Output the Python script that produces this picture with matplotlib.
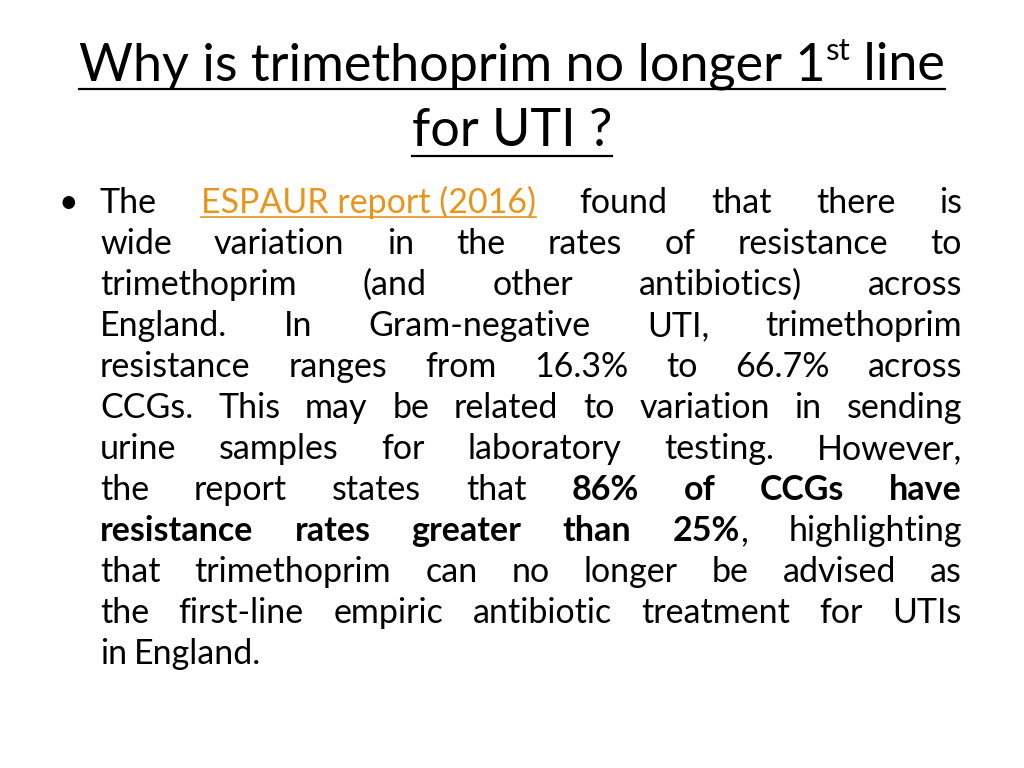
import matplotlib
matplotlib.use("Agg")
import matplotlib.pyplot as plt
from matplotlib.lines import Line2D

W, H = 1024, 768
FONT = "Lato"
BODY_SIZE = 24.5
TITLE_SIZE = 37.5
ORANGE = "#E8951C"

title_line1 = "Why is trimethoprim no longer 1"
title_sup = "st"
title_line1_end = " line"
title_line2 = "for UTI ?"

# each body line: list of (text, style); style n=normal, b=bold, l=link
body_lines = [
    [("The", "n"), ("ESPAUR report (2016)", "l"), ("found", "n"), ("that", "n"), ("there", "n"), ("is", "n")],
    [(w, "n") for w in "wide variation in the rates of resistance to".split()],
    [(w, "n") for w in "trimethoprim (and other antibiotics) across".split()],
    [(w, "n") for w in "England. In Gram-negative UTI, trimethoprim".split()],
    [(w, "n") for w in "resistance ranges from 16.3% to 66.7% across".split()],
    [(w, "n") for w in "CCGs. This may be related to variation in sending".split()],
    [(w, "n") for w in "urine samples for laboratory testing. However,".split()],
    [(w, "n") for w in "the report states that".split()] + [(w, "b") for w in "86% of CCGs have".split()],
    [(w, "b") for w in "resistance rates greater than".split()] + [("25%", "b"), (",", "n"), ("highlighting", "n")],
    [(w, "n") for w in "that trimethoprim can no longer be advised as".split()],
    [(w, "n") for w in "the first-line empiric antibiotic treatment for UTIs".split()],
    [(w, "n") for w in "in England.".split()],
]

fig = plt.figure(figsize=(W / 100, H / 100), dpi=100)
fig.patch.set_facecolor("white")
fig.canvas.draw()
renderer = fig.canvas.get_renderer()


def put(x, y, s, **kw):
    kw.setdefault("family", FONT)
    t = fig.text(x / W, 1 - y / H, s, va="baseline", ha="left", **kw)
    return t


def width(t):
    return t.get_window_extent(renderer).width


def hline(x0, x1, y, color="black", lw=1.6):
    fig.add_artist(Line2D([x0 / W, x1 / W], [1 - y / H, 1 - y / H], color=color, lw=lw))


# title
a = put(0, 80, title_line1, fontsize=TITLE_SIZE)
b = put(0, 80, title_sup, fontsize=TITLE_SIZE * 0.6)
c = put(0, 80, title_line1_end, fontsize=TITLE_SIZE)
tw = width(a) + width(b) + width(c)
x0 = 512 - tw / 2
a.set_x(x0 / W)
b.set_x((x0 + width(a)) / W)
b.set_y(1 - 60 / H)
c.set_x((x0 + width(a) + width(b)) / W)
hline(x0, x0 + tw, 89)
d = put(512, 146, title_line2, fontsize=TITLE_SIZE)
d.set_ha("center")
dw = width(d)
hline(512 - dw / 2, 512 + dw / 2, 156)

# body
put(58, 213, "\u2022", fontsize=BODY_SIZE)
LEFT, RIGHT, Y0, DY = 100, 962, 213, 41
for i, line in enumerate(body_lines):
    y = Y0 + i * DY
    texts = []
    for s, st in line:
        kw = dict(fontsize=BODY_SIZE)
        if st == "b":
            kw["fontweight"] = "bold"
        if st == "l":
            kw["color"] = ORANGE
        texts.append(put(LEFT, y, s, **kw))
    widths = [width(t) for t in texts]
    # glue comma to previous word
    gaps = [0 if line[k + 1][0] == "," else 1 for k in range(len(line) - 1)]
    ngaps = sum(gaps)
    if i == len(body_lines) - 1:
        gap = 7
    else:
        gap = (RIGHT - LEFT - sum(widths)) / max(ngaps, 1)
    x = LEFT
    for k, t in enumerate(texts):
        t.set_x(x / W)
        if line[k][1] == "l":
            hline(x, x + widths[k], y + 4, color=ORANGE, lw=1.2)
        x += widths[k]
        if k < len(gaps):
            x += gap * gaps[k]

fig.savefig("out.png", dpi=100, facecolor="white")
